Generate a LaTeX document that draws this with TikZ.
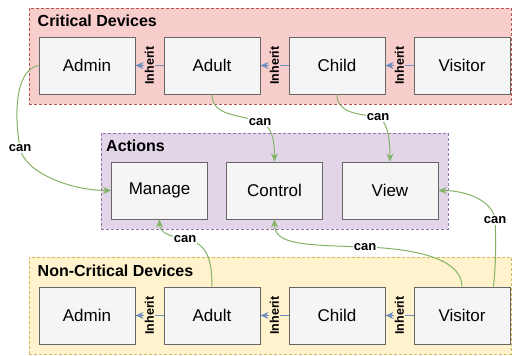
\documentclass[tikz,border=0pt]{standalone}
\usepackage{fontspec}
\setmainfont{Liberation Sans}
\usetikzlibrary{arrows.meta}
\definecolor{redfill}{HTML}{F8CECC}
\definecolor{redline}{HTML}{B85450}
\definecolor{purfill}{HTML}{E1D5E7}
\definecolor{purline}{HTML}{9673A6}
\definecolor{yelfill}{HTML}{FFF2CC}
\definecolor{yelline}{HTML}{D6B656}
\definecolor{devfill}{HTML}{F5F5F5}
\definecolor{devline}{HTML}{666666}
\definecolor{greenline}{HTML}{82B366}
\definecolor{blueline}{HTML}{6C8EBF}
\begin{document}
\begin{tikzpicture}[x=1pt,y=-1pt,
  grp/.style={line width=1pt, dash pattern=on 3pt off 2pt, inner sep=0},
  grptitle/.style={anchor=base west, inner sep=0, font=\bfseries\fontsize{16}{18}\selectfont},
  dev/.style={draw=devline, fill=devfill, line width=1pt, minimum width=96pt, minimum height=57pt, inner sep=0, font=\fontsize{17}{19}\selectfont},
  inh/.style={draw=blueline, line width=1pt, -{Stealth[length=8pt,width=7pt]}},
  inhlbl/.style={rotate=90, inner sep=0.5pt, font=\bfseries\fontsize{12.5}{14}\selectfont},
  canedge/.style={draw=greenline, line width=1pt, -{Stealth[length=8pt,width=7pt]}},
  canlbl/.style={fill=white, inner sep=1pt, font=\bfseries\fontsize{13}{15}\selectfont}
]
\useasboundingbox (0,0) rectangle (512,356);

% containers
\node[grp, draw=redline, fill=redfill, minimum width=482pt, minimum height=96pt] (crit) at (270,56) {};
\node[grp, draw=purline, fill=purfill, minimum width=347pt, minimum height=96pt] (act) at (274.5,181) {};
\node[grp, draw=yelline, fill=yelfill, minimum width=482pt, minimum height=97pt] (noncrit) at (270,305.5) {};
\node[grptitle] (tcrit) at (37.5,26.5) {Critical Devices};
\node[grptitle] (tact) at (106,151.5) {Actions};
\node[grptitle] (tnon) at (37.5,276.5) {Non-Critical Devices};

% critical devices
\node[dev] (tA) at (87,65.5) {Admin};
\node[dev] (tB) at (212,65.5) {Adult};
\node[dev] (tC) at (337,65.5) {Child};
\node[dev] (tD) at (462,65.5) {Visitor};

% actions
\node[dev] (mM) at (159.5,190.5) {Manage};
\node[dev] (mC) at (274.5,190.5) {Control};
\node[dev] (mV) at (390,190.5) {View};

% non-critical devices
\node[dev] (bA) at (87,315.5) {Admin};
\node[dev] (bB) at (212,315.5) {Adult};
\node[dev] (bC) at (337,315.5) {Child};
\node[dev] (bD) at (462,315.5) {Visitor};

% inherit edges
\draw[inh] (tB.west) -- (tA.east) node[midway, inhlbl, fill=redfill] {Inherit};
\draw[inh] (tC.west) -- (tB.east) node[midway, inhlbl, fill=redfill] {Inherit};
\draw[inh] (tD.west) -- (tC.east) node[midway, inhlbl, fill=redfill] {Inherit};
\draw[inh] (bB.west) -- (bA.east) node[midway, inhlbl, fill=yelfill] {Inherit};
\draw[inh] (bC.west) -- (bB.east) node[midway, inhlbl, fill=yelfill] {Inherit};
\draw[inh] (bD.west) -- (bC.east) node[midway, inhlbl, fill=yelfill] {Inherit};

% can edges
\coordinate (p1) at (20,148);
\coordinate (p2) at (260,122);
\coordinate (p3) at (378,117);
\coordinate (p4) at (495,220);
\coordinate (p5) at (365,247);
\coordinate (p6) at (185,239);
\coordinate (bD4) at ([xshift=-17pt]bD.north east);

\draw[canedge] (tA.west) .. controls (15,70) and (14,115) .. (p1) .. controls (24,172) and (70,190.5) .. (mM.west);
\draw[canedge] (tB.south) .. controls (212,116) and (238,114) .. (p2) .. controls (272,126) and (274.5,140) .. (mC.north);
\draw[canedge] (tC.south) .. controls (337,112) and (355,114) .. (p3) .. controls (388,122) and (390,140) .. (mV.north);
\draw[canedge] (bD4) .. controls (496,262) and (496,240) .. (p4) .. controls (493,200) and (465,190.5) .. (mV.east);
\draw[canedge] (bD.north) .. controls (462,262) and (425,249) .. (p5) .. controls (305,245) and (274.5,245) .. (mC.south);
\draw[canedge] (bB.north) .. controls (212,255) and (205,243) .. (p6) .. controls (168,236) and (159.5,232) .. (mM.south);

\node[canlbl] (l1) at (p1) {can};
\node[canlbl] (l2) at (p2) {can};
\node[canlbl] (l3) at (p3) {can};
\node[canlbl] (l4) at (p4) {can};
\node[canlbl] (l5) at (p5) {can};
\node[canlbl] (l6) at (p6) {can};
\end{tikzpicture}
\end{document}
